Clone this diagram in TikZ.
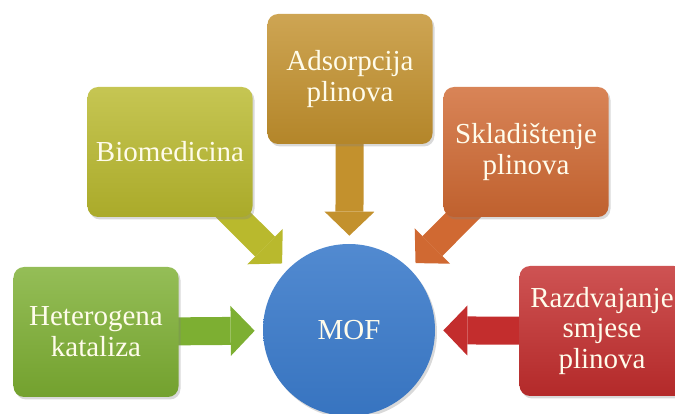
\documentclass[tikz,border=0pt]{standalone}
\usepackage{fontspec}
\setmainfont{Liberation Serif}
\usetikzlibrary{arrows.meta, shadows, backgrounds}
\definecolor{katgreen}{RGB}{125, 175, 50}
\definecolor{bioolive}{RGB}{185, 185, 45}
\definecolor{adsgold}{RGB}{195, 145, 45}
\definecolor{sklorange}{RGB}{208, 105, 50}
\definecolor{razred}{RGB}{195, 45, 45}
\definecolor{mofblue}{RGB}{58, 122, 202}
\definecolor{labelcream}{RGB}{255, 252, 235}

\begin{document}
\begin{tikzpicture}[
  appbox/.style={rounded corners=6pt, minimum width=3.3cm, minimum height=2.6cm, align=center, inner sep=2pt,
    font=\rmfamily\fontsize{16.5}{17.5}\selectfont, text=labelcream, top color=#1!82!white, bottom color=#1!92!black,
    drop shadow={opacity=0.3, shadow xshift=0.04cm, shadow yshift=-0.05cm}},
  hub/.style={circle, minimum size=3.44cm, inner sep=0pt, font=\rmfamily\fontsize{16.5}{17.5}\selectfont, text=labelcream,
    top color=mofblue!88!white, bottom color=mofblue!95!black,
    drop shadow={opacity=0.3, shadow xshift=0.04cm, shadow yshift=-0.05cm}},
  feed/.style={line width=0.56cm, draw=#1, shorten >=0.16cm, -{Triangle[width=1.0cm, length=0.48cm, line width=0pt]}}
]
  \useasboundingbox (0, 0) rectangle (13.5, 8.28);
  \node[hub] (mof) at (6.98, 1.68) {MOF};
  \node[appbox=katgreen] (kataliza) at (1.92, 1.64) {Heterogena\\kataliza};
  \node[appbox=bioolive] (biomed) at (3.40, 5.24) {Biomedicina};
  \node[appbox=adsgold] (adsorpcija) at (7.00, 6.70) {Adsorpcija\\plinova};
  \node[appbox=sklorange] (skladistenje) at (10.52, 5.24) {Skladištenje\\plinova};
  \node[appbox=razred] (razdvajanje) at (12.04, 1.66) {Razdvajanje\\smjese\\plinova};
  \begin{scope}[on background layer]
    \draw[feed=katgreen] (kataliza.center) -- (mof);
    \draw[feed=bioolive] (biomed.center) -- (mof);
    \draw[feed=adsgold] (adsorpcija.center) -- (mof);
    \draw[feed=sklorange] (skladistenje.center) -- (mof);
    \draw[feed=razred] (razdvajanje.center) -- (mof);
  \end{scope}
\end{tikzpicture}
\end{document}
